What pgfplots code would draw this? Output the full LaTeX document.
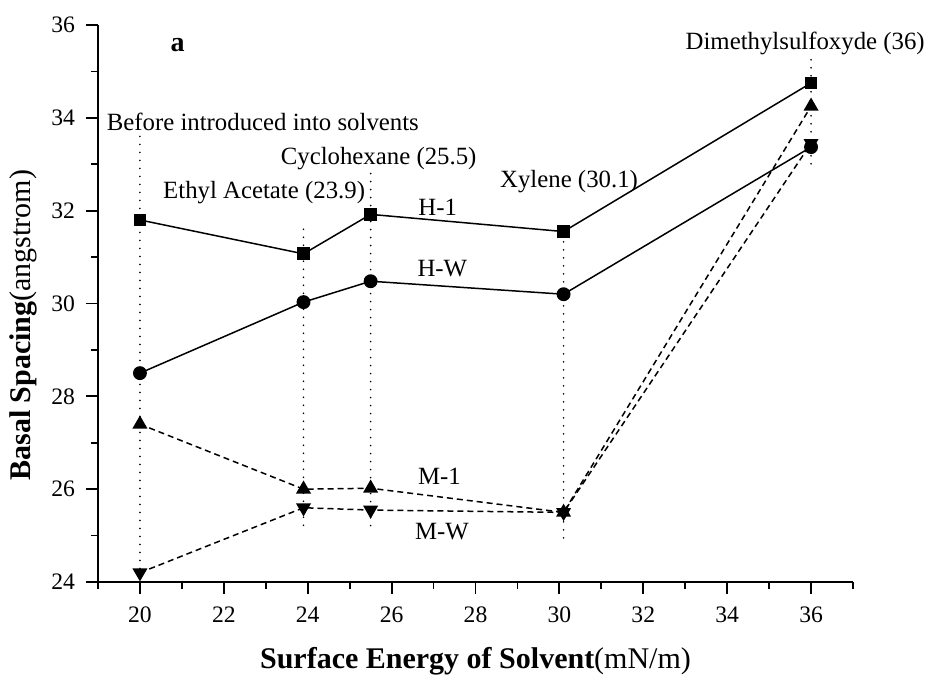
\documentclass[border=0pt]{standalone}
\usepackage{fontspec}
\setmainfont{Liberation Serif}
\usepackage{pgfplots}
\pgfplotsset{compat=1.18}
\begin{document}
\begin{tikzpicture}
\useasboundingbox (-49pt,-47.5pt) rectangle (416.5pt,291pt);
\begin{axis}[
  scale only axis,
  width=377.5pt, height=278.5pt,
  xmin=19, xmax=37, ymin=24, ymax=36,
  axis lines=left,
  axis line style={-, line width=0.9pt},
  xtick={20,22,...,36}, ytick={24,26,...,36},
  minor xtick={19,21,...,37}, minor ytick={25,27,...,35},
  tick align=outside,
  major tick length=6pt, minor tick length=3.5pt,
  tick style={line width=0.9pt, black},
  /pgf/number format/assume math mode=true,
  tick label style={font=\fontsize{11.8}{14}\selectfont},
  xticklabel style={yshift=-3pt},
  yticklabel style={xshift=-2pt},
  xlabel={\textbf{Surface Energy of Solvent}(mN/m)},
  ylabel={\textbf{Basal Spacing}(angstrom)},
  label style={font=\fontsize{15}{17}\selectfont},
  xlabel style={at={(axis description cs:0.5,-0.1544)}, anchor=base},
  ylabel style={at={(axis description cs:-0.0993,0.461)}, anchor=center, rotate=0},
  clip=false,
]
% dotted guide lines
\addplot[black, line width=0.9pt, line cap=round, dash pattern=on 0pt off 4pt, mark=none] coordinates {(20,33.6) (20,24.0)};
\addplot[black, line width=0.9pt, line cap=round, dash pattern=on 0pt off 4pt, mark=none] coordinates {(23.9,31.6) (23.9,25.1)};
\addplot[black, line width=0.9pt, line cap=round, dash pattern=on 0pt off 4pt, mark=none] coordinates {(25.5,32.8) (25.5,25.1)};
\addplot[black, line width=0.9pt, line cap=round, dash pattern=on 0pt off 4pt, mark=none] coordinates {(30.1,31.5) (30.1,24.95)};
\addplot[black, line width=0.9pt, line cap=round, dash pattern=on 0pt off 4pt, mark=none] coordinates {(36,35.25) (36,32.85)};
% H-1
\addplot[black, line width=0.75pt, mark=square*, mark size=2.8pt, mark options={solid}] coordinates {(20,31.8) (23.9,31.07) (25.5,31.92) (30.1,31.55) (36,34.75)};
% H-W
\addplot[black, line width=0.75pt, mark=*, mark size=3.1pt, mark options={solid}] coordinates {(20,28.5) (23.9,30.03) (25.5,30.48) (30.1,30.2) (36,33.37)};
% M-1
\addplot[black, line width=0.75pt, dash pattern=on 3pt off 2pt, mark=triangle*, mark size=3.6pt, mark options={solid}] coordinates {(20,27.4) (23.9,26.0) (25.5,26.02) (30.1,25.5) (36,34.25)};
% M-W
\addplot[black, line width=0.75pt, dash pattern=on 3pt off 2pt, mark=triangle*, mark size=3.6pt, mark options={solid, rotate=180}] coordinates {(20,24.2) (23.9,25.6) (25.5,25.55) (30.1,25.5) (36,33.45)};
% annotations
\begin{scope}[font=\fontsize{12.4}{14}\selectfont]
\node at (axis cs:22.93,33.91) {Before introduced into solvents};
\node at (axis cs:22.96,32.38) {Ethyl Acetate (23.9)};
\node at (axis cs:25.69,33.13) {Cyclohexane (25.5)};
\node at (axis cs:30.23,32.62) {Xylene (30.1)};
\node at (axis cs:35.86,35.61) {Dimethylsulfoxyde (36)};
\node at (axis cs:27.1,32.08) {H-1};
\node at (axis cs:27.21,30.76) {H-W};
\node at (axis cs:27.14,26.28) {M-1};
\node at (axis cs:27.2,25.09) {M-W};
\end{scope}
\node[font=\fontsize{14}{16}\selectfont\bfseries] at (axis cs:20.9,35.57) {a};
\end{axis}
\end{tikzpicture}
\end{document}
